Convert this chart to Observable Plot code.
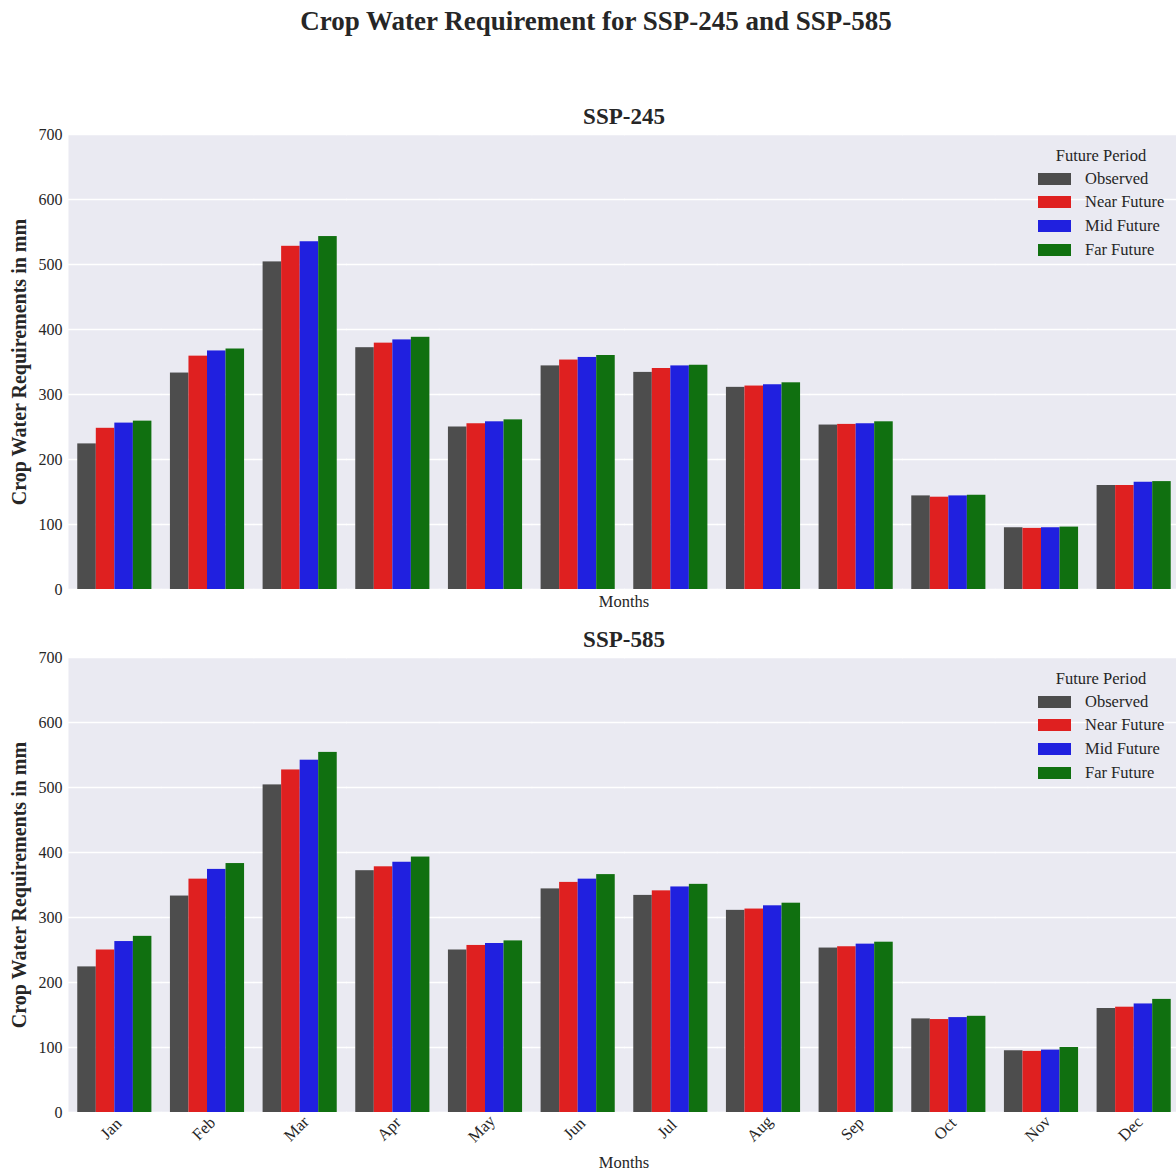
<!DOCTYPE html>
<html>
<head>
<meta charset="utf-8">
<script src="https://cdn.jsdelivr.net/npm/d3@7"></script>
<script src="https://cdn.jsdelivr.net/npm/@observablehq/plot@0.6"></script>
<style>
  body { margin: 0; background: #fff; font-family: "Liberation Serif", "Times New Roman", serif; color: #262626; }
  #fig { position: relative; width: 1176px; height: 1172px; overflow: hidden; }
  .abs { position: absolute; white-space: nowrap; line-height: 1; }
  .c { transform: translate(-50%, -50%); }
  .vc { transform: translateY(-50%); }
  svg g[aria-label="y-axis label"] text { font-weight: bold; font-size: 20px; }
</style>
</head>
<body>
<div id="fig"></div>
<script>
const months = ["Jan", "Feb", "Mar", "Apr", "May", "Jun", "Jul", "Aug", "Sep", "Oct", "Nov", "Dec"];
const periods = ["Observed", "Near Future", "Mid Future", "Far Future"];
const colors = ["#4d4d4d", "#df2020", "#2020df", "#107010"];
const yTicks = [0, 100, 200, 300, 400, 500, 600, 700];

const observed = [224, 333, 504, 372, 250, 344, 334, 311, 253, 144, 95, 160];

const near245 = [248, 359, 528, 379, 255, 353, 340, 313, 254, 142, 94, 160];
const mid245  = [256, 367, 535, 384, 258, 357, 344, 315, 255, 144, 95, 165];
const far245  = [259, 370, 543, 388, 261, 360, 345, 318, 258, 145, 96, 166];

const near585 = [250, 359, 527, 378, 257, 354, 341, 313, 255, 143, 94, 162];
const mid585  = [263, 374, 542, 385, 260, 359, 347, 318, 259, 146, 96, 167];
const far585  = [271, 383, 554, 393, 264, 366, 351, 322, 262, 148, 100, 174];

function tidy(series) {
  return months.flatMap((m, i) => periods.map((p, j) => ({month: m, period: p, value: series[j][i]})));
}

const fig = document.getElementById("fig");

function addText(txt, x, y, size, bold, cls = "c") {
  const d = document.createElement("div");
  d.className = "abs " + cls;
  d.style.left = x + "px";
  d.style.top = y + "px";
  d.style.fontSize = size + "px";
  if (bold) d.style.fontWeight = "bold";
  d.textContent = txt;
  fig.appendChild(d);
  return d;
}

function addLegend(plotTop) {
  addText("Future Period", 1101, plotTop + 22, 16.5, false);
  periods.forEach((p, k) => {
    const cy = plotTop + 44.5 + 23.7 * k;
    const sw = document.createElement("div");
    sw.className = "abs";
    sw.style.left = "1038px";
    sw.style.top = (cy - 6) + "px";
    sw.style.width = "33px";
    sw.style.height = "12px";
    sw.style.background = colors[k];
    fig.appendChild(sw);
    addText(p, 1085, cy, 16.5, false, "vc");
  });
}

function panel({data, top, height, marginBottom, showMonths}) {
  const chart = Plot.plot({
    width: 1180,
    height,
    marginLeft: 68,
    marginRight: 0,
    marginTop: 10,
    marginBottom,
    style: {fontFamily: "Liberation Serif", fontSize: "16px", color: "#262626", background: "transparent", overflow: "visible", maxWidth: "none"},
    fx: {domain: months, padding: 0, round: false, axis: null},
    x: {domain: periods, paddingInner: 0, paddingOuter: 0.5, round: false, axis: null},
    y: {domain: [0, 700], ticks: yTicks, tickSize: 0, tickPadding: 6,
        label: "Crop Water Requirements in mm", labelAnchor: "center", labelOffset: 57, labelArrow: "none"},
    color: {domain: periods, range: colors},
    marks: [
      Plot.frame({fill: "#eaeaf2", stroke: "none", insetRight: -1.5}),
      Plot.gridY(yTicks, {stroke: "#ffffff", strokeOpacity: 1, strokeWidth: 1.3, insetRight: -1}),
      Plot.barY(data, {fx: "month", x: "period", y: "value", fill: "period"}),
      showMonths ? Plot.text(months, {fx: d => d, text: d => d, frameAnchor: "bottom", rotate: -45, dy: 20, fontSize: 16.5, fill: "#262626"}) : null
    ]
  });
  chart.style.position = "absolute";
  chart.style.left = "0px";
  chart.style.top = top + "px";
  chart.style.maxWidth = "none";
  chart.style.width = "1180px";
  fig.appendChild(chart);
}

addText("Crop Water Requirement for SSP-245 and SSP-585", 596, 21, 27, true);

addText("SSP-245", 624, 116, 23, true);
panel({data: tidy([observed, near245, mid245, far245]), top: 124, height: 466, marginBottom: 1, showMonths: false});
addText("Months", 624, 602, 16.5, false);
addLegend(134);

addText("SSP-585", 624, 639, 23, true);
panel({data: tidy([observed, near585, mid585, far585]), top: 647, height: 515, marginBottom: 50, showMonths: true});
addText("Months", 624, 1163, 16.5, false);
addLegend(657);
</script>
</body>
</html>
